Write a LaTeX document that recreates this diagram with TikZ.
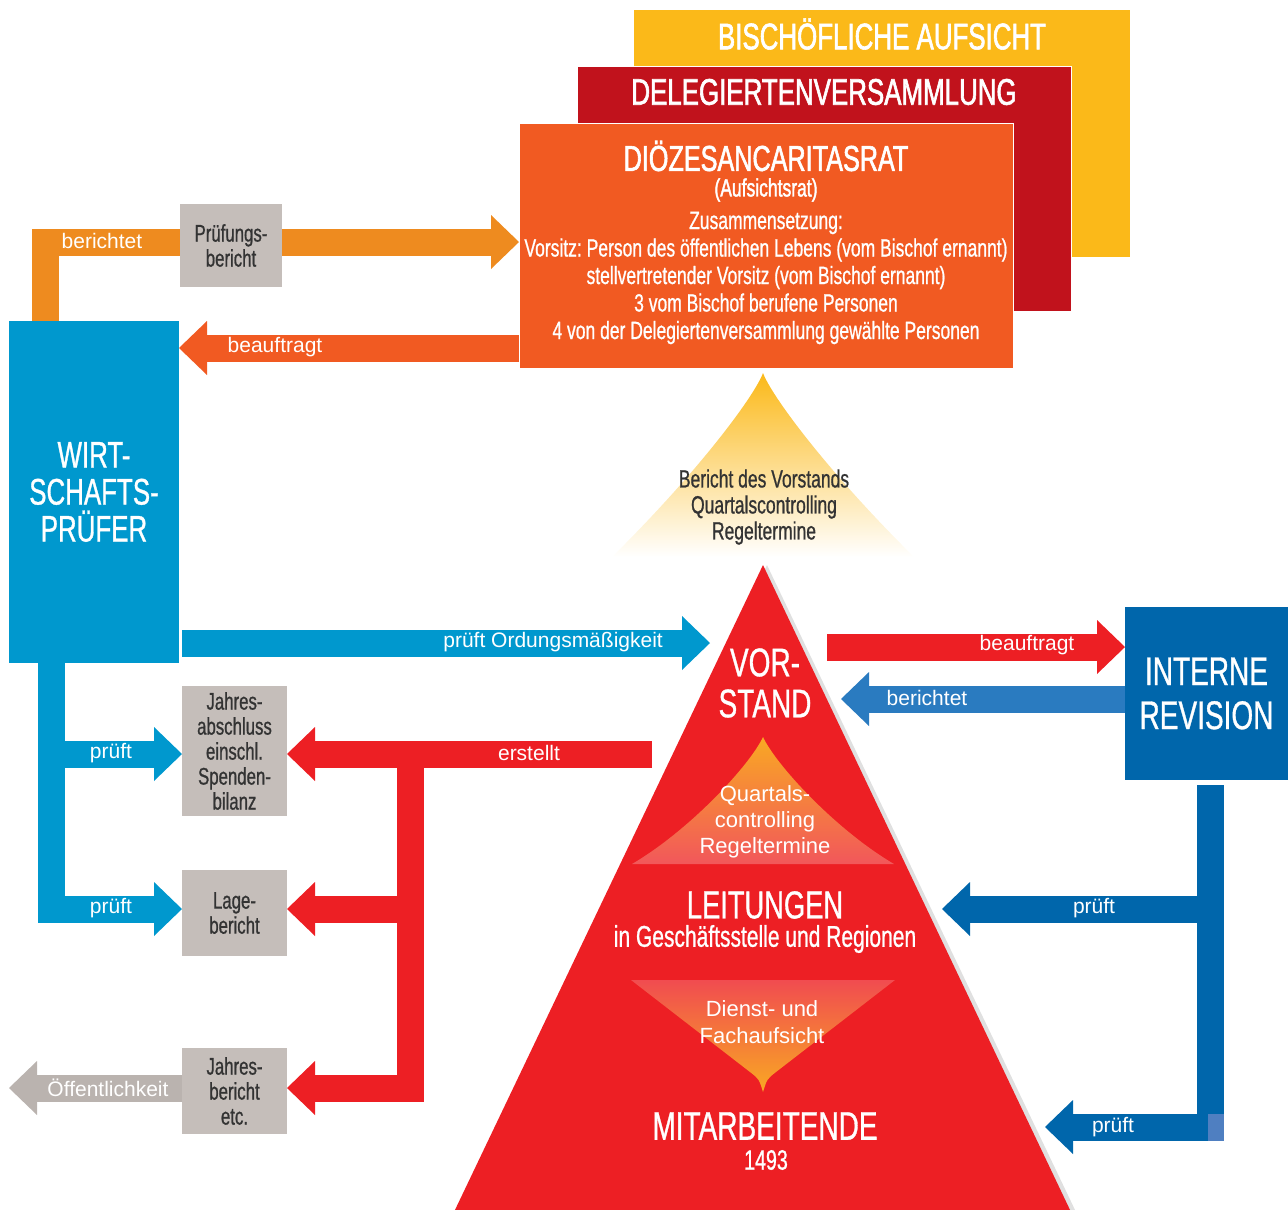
\documentclass[tikz,border=0pt]{standalone}
\usepackage{fontspec}
\setmainfont{Liberation Sans}[FakeStretch=0.7, FakeBold=0.8]
\newfontfamily\pfeilfont{Liberation Sans}
\newfontfamily\titelfont{Liberation Sans}[FakeStretch=0.7, FakeBold=1.6]
\usetikzlibrary{arrows.meta}
\frenchspacing

\definecolor{bischgelb}{HTML}{FBB919}
\definecolor{delegrot}{HTML}{C1121C}
\definecolor{ratorange}{HTML}{F15A22}
\definecolor{pruefgrau}{HTML}{C5BEBA}
\definecolor{berorange}{HTML}{EE8B1F}
\definecolor{wpblau}{HTML}{0098CE}
\definecolor{vsrot}{HTML}{ED1F24}
\definecolor{irblau}{HTML}{0066AB}
\definecolor{berblau}{HTML}{2A7BC0}
\definecolor{hellblau}{HTML}{4F7FC1}
\definecolor{oeffgrau}{HTML}{BAB3AF}
\definecolor{dunkeltext}{HTML}{333333}
\definecolor{quartgelb}{HTML}{F9A823}
\definecolor{quartlachs}{HTML}{F47E5E}

\tikzset{
  feld/.style={rectangle, inner sep=0pt, outer sep=0pt, draw=white, line width=1pt},
  graufeld/.style={rectangle, inner sep=0pt, outer sep=0pt, fill=pruefgrau, text=dunkeltext,
    align=center, minimum width=105pt, font=\fontsize{24}{25}\selectfont},
  kopf/.style={text=white, inner sep=0pt, align=center, font=\fontsize{37}{40}\selectfont},
  titel/.style={text=white, inner sep=0pt, font=\titelfont\fontsize{37}{40}\selectfont},
  balken/.style={line width=27pt, line cap=butt, line join=miter},
  spitze/.style={-{Triangle[length=28pt,width=54pt,line width=0pt]}},
  pfeiltext/.style={text=white, inner sep=0pt, font=\pfeilfont\fontsize{21}{24}\selectfont},
}

\begin{document}
\begin{tikzpicture}[x=1pt,y=-1pt]
\useasboundingbox (0,0) rectangle (1288,1210);

% Aufsichtsgremien
\node[feld, fill=bischgelb, minimum width=497pt, minimum height=248pt] (bischof) at (881.5,133) {};
\node[titel] (bischofT) at (882,34) {BISCHÖFLICHE AUFSICHT};
\node[feld, fill=delegrot, minimum width=494pt, minimum height=245pt] (delegierte) at (824,188.5) {};
\node[titel] (delegierteT) at (824,92) {DELEGIERTENVERSAMMLUNG};
\node[feld, fill=ratorange, minimum width=494pt, minimum height=245pt] (rat) at (766,245.5) {};
\node[titel, font=\titelfont\fontsize{36}{40}\selectfont] (ratT) at (766,156) {DIÖZESANCARITASRAT};
\node[text=white, inner sep=0pt, font=\titelfont\fontsize{25}{26}\selectfont] (ratA) at (766,190) {(Aufsichtsrat)};
\node[text=white, inner sep=0pt, align=center, font=\fontsize{25}{27.5}\selectfont] (ratB) at (766,278)
  {Zusammensetzung:\\ Vorsitz: Person des öffentlichen Lebens (vom Bischof ernannt)\\
   stellvertretender Vorsitz (vom Bischof ernannt)\\ 3 vom Bischof berufene Personen\\
   4 von der Delegiertenversammlung gewählte Personen};

% Kaesten
\node[graufeld, minimum width=102pt, minimum height=83pt] (pruefbericht) at (231,245.5) {Prüfungs-\\bericht};
\node[rectangle, inner sep=0pt, outer sep=0pt, fill=wpblau, minimum width=170pt, minimum height=342pt,
  text=white, align=center, font=\fontsize{37}{37}\selectfont] (wp) at (94,492) {WIRT-\\SCHAFTS-\\PRÜFER};
\node[graufeld, minimum height=130pt] (abschluss) at (234.5,751) {Jahres-\\abschluss\\einschl.\\Spenden-\\bilanz};
\node[graufeld, minimum height=86pt] (lagebericht) at (234.5,913) {Lage-\\bericht};
\node[graufeld, minimum height=86pt] (jahresbericht) at (234.5,1091) {Jahres-\\bericht\\etc.};
\node[rectangle, inner sep=0pt, outer sep=0pt, fill=irblau, minimum width=163pt, minimum height=173pt,
  text=white, align=center, font=\fontsize{40}{44}\selectfont] (revision) at (1206.5,693.5) {INTERNE\\REVISION};

% Pyramide
\shade[top color=bischgelb, bottom color=white] (763,373) .. controls (755,395) and (700,470) .. (612,557)
  -- (914,557) .. controls (826,470) and (771,395) .. (763,373) -- cycle;
\node[text=dunkeltext, inner sep=0pt, align=center, font=\fontsize{25}{26}\selectfont] (bericht) at (764,507)
  {Bericht des Vorstands\\Quartalscontrolling\\Regeltermine};
\fill[black!12] (767,565) -- (1076,1212) -- (458,1212) -- cycle;
\fill[vsrot] (763,565) -- (1071,1212) -- (454,1212) -- cycle;
\shade[top color=quartgelb, middle color=quartlachs, bottom color=vsrot!75!white]
  (763,737) .. controls (750,765) and (690,830) .. (632,864) -- (894,864)
  .. controls (836,830) and (776,765) .. (763,737) -- cycle;
\shade[top color=vsrot!80!white, middle color=quartlachs, bottom color=quartgelb]
  (631,980) -- (895,980) -- (776,1072) .. controls (767,1079) .. (763,1092)
  .. controls (759,1079) .. (750,1072) -- cycle;
\node[kopf, font=\fontsize{40}{41}\selectfont] (vorstand) at (765,683) {VOR-\\STAND};
\node[text=white, inner sep=0pt, align=center, font=\pfeilfont\fontsize{22}{26}\selectfont] (quartal) at (765,822)
  {Quartals-\\controlling\\Regeltermine};
\node[kopf, font=\fontsize{39}{40}\selectfont] (leitung) at (765,905) {LEITUNGEN};
\node[text=white, inner sep=0pt, font=\fontsize{30}{32}\selectfont] (leitungB) at (765,939) {in Geschäftsstelle und Regionen};
\node[text=white, inner sep=0pt, align=center, font=\pfeilfont\fontsize{22}{27}\selectfont] (fachaufsicht) at (762,1022)
  {Dienst- und\\Fachaufsicht};
\node[kopf, font=\fontsize{40}{40}\selectfont] (mitarbeit) at (765,1126) {MITARBEITENDE};
\node[text=white, inner sep=0pt, font=\fontsize{28}{30}\selectfont] (anzahl) at (766,1160) {1493};

% Pfeile oben
\coordinate (berY) at (0,242);
\coordinate (aufY) at (0,348);
\draw[balken, berorange] ([xshift=36pt]wp.north west) |- (pruefbericht.west |- berY);
\draw[balken, berorange, spitze] (pruefbericht.east |- berY) -- (rat.west |- berY);
\draw[balken, ratorange, spitze] (rat.west |- aufY) -- (wp.east |- aufY);
\node[pfeiltext] (tBerichtet) at (102,241) {berichtet};
\node[pfeiltext] (tBeauftragt) at (275,347) {beauftragt};

% Pfeile Wirtschaftspruefer
\coordinate (vsLinks) at (710,643);
\coordinate (wpFuss) at (51,663);
\coordinate (abY) at (0,754);
\coordinate (lageY) at (0,909);
\coordinate (jbY) at (0,1088);
\draw[balken, wpblau, spitze] ([xshift=3pt]wp.east |- vsLinks) -- (vsLinks);
\draw[balken, wpblau, spitze] (wpFuss) |- (lagebericht.west |- lageY);
\draw[balken, wpblau, spitze] (wpFuss |- abY) -- (abschluss.west |- abY);
\node[pfeiltext, anchor=east] (tOrdnung) at (663,642) {prüft Ordungsmäßigkeit};
\node[pfeiltext] (tPrueft1) at (111,753) {prüft};
\node[pfeiltext] (tPrueft2) at (111,908) {prüft};

% Pfeile Vorstand
\coordinate (erstellt) at (652,754);
\coordinate (rotKnoten) at (410,754);
\coordinate (oeffentlich) at (9,1088);
\draw[balken, vsrot, spitze] (erstellt) -- (abschluss.east |- abY);
\draw[balken, vsrot, spitze] (rotKnoten) |- (jahresbericht.east |- jbY);
\draw[balken, vsrot, spitze] (rotKnoten |- lageY) -- (lagebericht.east |- lageY);
\draw[balken, oeffgrau, spitze] (jahresbericht.west |- jbY) -- (oeffentlich);
\node[pfeiltext] (tErstellt) at (529,753) {erstellt};
\node[pfeiltext] (tOeffentlich) at (108,1088) {Öffentlichkeit};

% Pfeile Interne Revision
\coordinate (vsRechts) at (827,647);
\coordinate (vsRechts2) at (841,699);
\coordinate (irFuss) at (1210,785);
\coordinate (leitungPfeil) at (942,909);
\coordinate (mitarbPfeil) at (1045,1127);
\draw[balken, vsrot, spitze] (vsRechts) -- (revision.west |- vsRechts);
\draw[balken, berblau, spitze] (revision.west |- vsRechts2) -- (vsRechts2);
\draw[balken, irblau, spitze] (irFuss) |- (mitarbPfeil);
\draw[balken, irblau, spitze] (irFuss |- leitungPfeil) -- (leitungPfeil);
\fill[hellblau] (1208,1114) rectangle (1224,1141);
\node[pfeiltext] (tBeauftragt2) at (1027,645) {beauftragt};
\node[pfeiltext] (tBerichtet2) at (927,698) {berichtet};
\node[pfeiltext] (tPrueft3) at (1094,908) {prüft};
\node[pfeiltext] (tPrueft4) at (1113,1127) {prüft};
\end{tikzpicture}
\end{document}
